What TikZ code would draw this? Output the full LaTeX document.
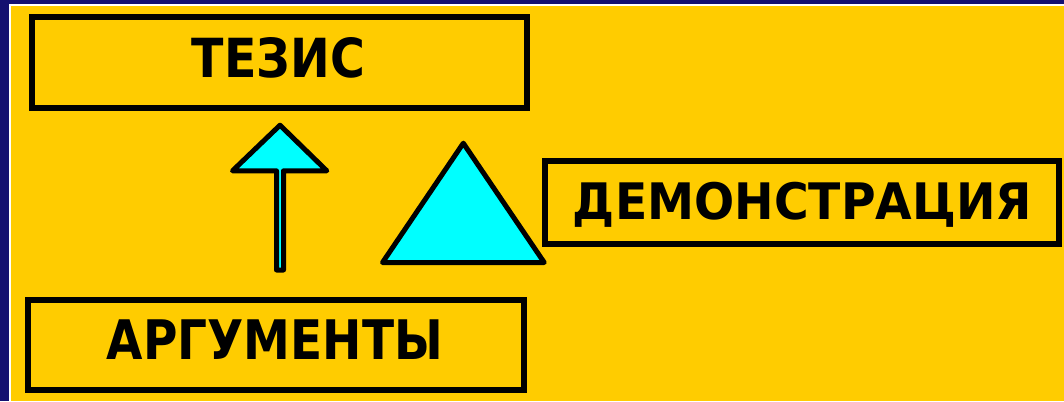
\documentclass[tikz,border=0pt]{standalone}
\usepackage{fontspec}
\setmainfont{DejaVu Sans}
\definecolor{navybg}{RGB}{20,16,112}
\definecolor{yellowbg}{RGB}{255,204,0}
\definecolor{cyanfill}{RGB}{0,255,255}
\tikzset{
  box/.style={draw=black, line width=4.5pt, rectangle, inner sep=0pt},
  label txt/.style={inner sep=0pt, anchor=base, font=\bfseries},
  shape line/.style={draw=black, fill=cyanfill, line width=3.75pt, line join=round}
}
\begin{document}
\begin{tikzpicture}[x=0.75pt,y=-0.75pt]
\useasboundingbox (0,0) rectangle (1064,401);
% background
\fill[navybg] (0,0) rectangle (1064,401);
\fill[white] (9,4) rectangle (1064,401);
\fill[yellowbg] (10.5,5.5) rectangle (1064,401);
% boxes
\node[box, minimum width=495*0.75pt, minimum height=91*0.75pt] (tezis) at (279.5,62.5) {};
\node[box, minimum width=514*0.75pt, minimum height=83*0.75pt] (demo) at (802,202.5) {};
\node[box, minimum width=496*0.75pt, minimum height=90*0.75pt] (arg) at (276,345) {};
% texts
\node[label txt] (tezisT) at (278.5,77) {\resizebox{129.75pt}{30pt}{ТЕЗИС}};
\node[label txt] (demoT) at (802.5,219.5) {\resizebox{344.25pt}{28pt}{ДЕМОНСТРАЦИЯ}};
\node[label txt] (argT) at (274.8,359) {\resizebox{252.2pt}{29.8pt}{АРГУМЕНТЫ}};
% block arrow
\coordinate (apex) at (280,125.2);
\draw[shape line] (apex) -- (326.8,170.8) -- (283.5,170.8) -- (283.5,270)
  -- (276.5,270) -- (276.5,170.8) -- (232.5,170.8) -- cycle;
% big triangle
\draw[shape line] (463.3,143.2) -- (544.2,262.5) -- (382.5,262.5) -- cycle;
\end{tikzpicture}
\end{document}
